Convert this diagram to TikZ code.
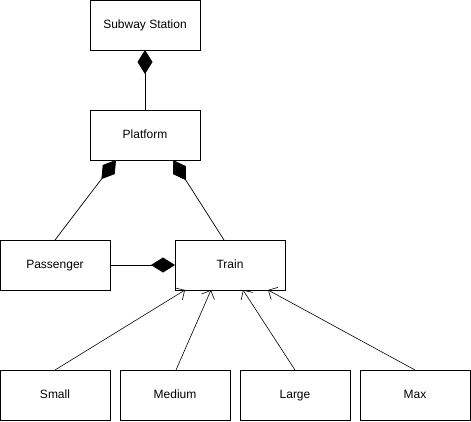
\documentclass[tikz,border=0pt]{standalone}
\usepackage{fontspec}
\setmainfont{Liberation Sans}
\usetikzlibrary{arrows.meta}
\tikzset{
    cls/.style={draw,black,line width=0.8pt,minimum width=110pt,minimum height=50pt,inner sep=0pt,outer sep=0pt,text height=8.6pt,text depth=2.6pt,font=\fontsize{12}{14}\selectfont},
    compo/.style={{Diamond[length=24pt,width=15pt]}-,black,line width=0.7pt},
    inherit/.style={-{Straight Barb[length=7pt,width=14pt]},black,line width=0.6pt}
}

\begin{document}
\begin{tikzpicture}[x=1pt,y=-1pt]
\useasboundingbox (0,0) rectangle (471,421);
\node[cls] (sta) at (145,25) {Subway Station};
\node[cls] (plat) at (145,135) {Platform};
\node[cls] (pass) at (55,265) {Passenger};
\node[cls] (train) at (230,265) {Train};
\node[cls] (small) at (55,395) {Small};
\node[cls] (med) at (175,395) {Medium};
\node[cls] (large) at (295,395) {Large};
\node[cls] (max) at (415,395) {Max};
% composition
\draw[compo] (sta) -- (plat);
\draw[compo] ([xshift=-29pt]plat.south) -- (pass.north);
\draw[compo] ([xshift=28pt]plat.south) -- ([xshift=-6pt]train.north);
\draw[compo] (train) -- (pass);
% kinds of train
\draw[inherit] (small.north) -- ([xshift=-45pt]train.south);
\draw[inherit] ([xshift=1pt]med.north) -- ([xshift=-19pt]train.south);
\draw[inherit] (large.north) -- ([xshift=13pt]train.south);
\draw[inherit] (max.north) -- ([xshift=38pt]train.south);
\end{tikzpicture}
\end{document}
